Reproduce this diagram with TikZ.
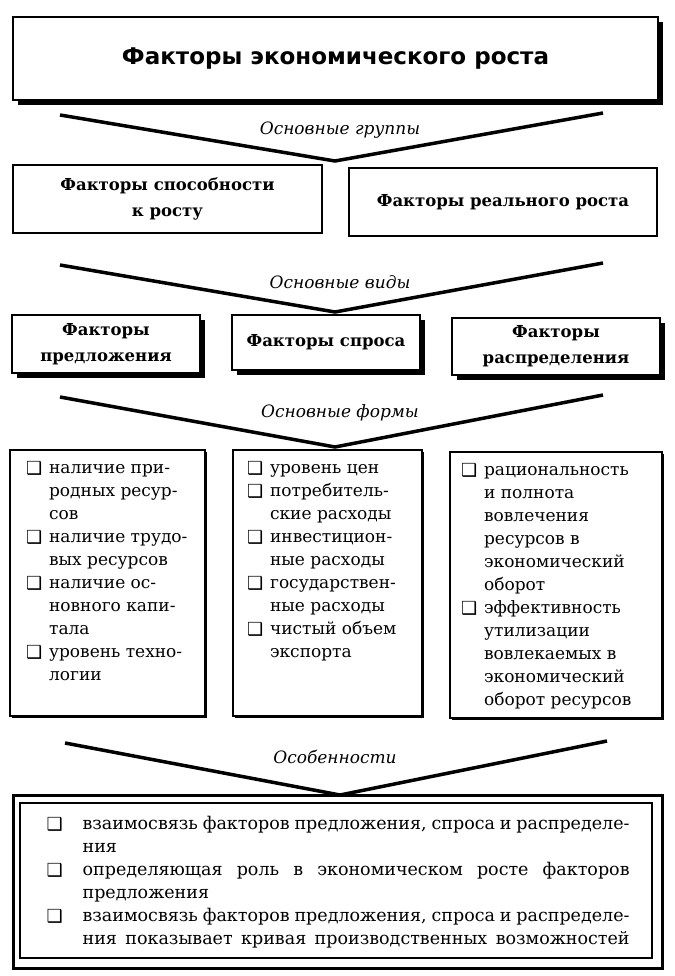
\documentclass[tikz,border=0pt]{standalone}
\usepackage{fontspec}
\setmainfont{DejaVu Serif}
\newfontfamily\hdfont{DejaVu Sans}
\newfontfamily\symfnt{DejaVu Sans}
\usetikzlibrary{shadows}
% case a cocher des listes
\newcommand\chk{\makebox[23pt][l]{\raisebox{-0.5pt}{\symfnt\fontsize{18}{18}\selectfont ❑}}}
\newcommand\ind{\hspace*{23pt}}
\newcommand\jl[1]{\makebox[547pt][s]{#1}}

\begin{document}
\begin{tikzpicture}[x=1pt, y=-1pt,
 box/.style={draw, line width=2.2pt, fill=white, inner sep=0pt},
 shbox/.style={box, drop shadow={fill=black, opacity=1, shadow xshift=5pt, shadow yshift=-5pt}},
 sbox/.style={box, drop shadow={fill=black, opacity=1, shadow xshift=2pt, shadow yshift=-2pt}},
 head/.style={font=\bfseries\fontsize{16.5}{26}\selectfont, align=center},
 grp/.style={font=\itshape\fontsize{17}{20}\selectfont},
 lst/.style={font=\fontsize{17}{23}\selectfont, align=left, inner sep=0pt, anchor=north west},
 vline/.style={line width=3.5pt, line join=miter}]
\useasboundingbox (0,0) rectangle (674,976);
% titre
\node[shbox, minimum width=645pt, minimum height=83pt,
  font=\hdfont\bfseries\fontsize{23}{26}\selectfont] (titre) at (335.5,58.5)
  {Факторы экономического роста};
% groupes
\coordinate (v1l) at (60,115);
\coordinate (v1r) at (603,113);
\coordinate (v1a) at (335,161);
\draw[vline] (v1l) -- (v1a) -- (v1r);
\node[grp] (lgrp) at (340,130) {Основные группы};
\node[box, head, minimum width=309pt, minimum height=68pt] (capa) at (167.5,199)
  {Факторы способности\\к росту};
\node[box, head, minimum width=308pt, minimum height=68pt] (reel) at (503,202)
  {Факторы реального роста};
% types
\coordinate (v2l) at (60,265);
\coordinate (v2r) at (603,263);
\coordinate (v2a) at (335,312);
\draw[vline] (v2l) -- (v2a) -- (v2r);
\node[grp] (ltyp) at (340,282) {Основные виды};
\node[shbox, head, minimum width=188pt, minimum height=58pt] (offre) at (106,344)
  {Факторы\\предложения};
\node[shbox, head, minimum width=188pt, minimum height=55pt] (dem) at (326,342.5)
  {Факторы спроса};
\node[shbox, head, minimum width=208pt, minimum height=57pt] (distr) at (556,346.5)
  {Факторы\\распределения};
% formes
\coordinate (v3l) at (60,397);
\coordinate (v3r) at (603,395);
\coordinate (v3a) at (335,447);
\draw[vline] (v3l) -- (v3a) -- (v3r);
\node[grp] (lfrm) at (340,413) {Основные формы};
\node[sbox, minimum width=195pt, minimum height=266pt] (fo) at (107.5,583) {};
\node[sbox, minimum width=189pt, minimum height=266pt] (fd) at (327.5,583) {};
\node[sbox, minimum width=212pt, minimum height=266pt] (fr) at (556,585) {};
\node[lst] (fotxt) at ([xshift=17pt,yshift=-12pt]fo.north west)
  {\chk наличие при-\\\ind родных ресур-\\\ind сов\\
   \chk наличие трудо-\\\ind вых ресурсов\\
   \chk наличие ос-\\\ind новного капи-\\\ind тала\\
   \chk уровень техно-\\\ind логии};
\node[lst] (fdtxt) at ([xshift=15pt,yshift=-12pt]fd.north west)
  {\chk уровень цен\\
   \chk потребитель-\\\ind ские расходы\\
   \chk инвестицион-\\\ind ные расходы\\
   \chk государствен-\\\ind ные расходы\\
   \chk чистый объем\\\ind экспорта};
\node[lst] (frtxt) at ([xshift=12pt,yshift=-12pt]fr.north west)
  {\chk рациональность\\\ind и полнота\\\ind вовлечения\\\ind ресурсов в\\
   \ind экономический\\\ind оборот\\
   \chk эффективность\\\ind утилизации\\\ind вовлекаемых в\\
   \ind экономический\\\ind оборот ресурсов};
% particularites
\coordinate (v4l) at (65,743);
\coordinate (v4r) at (607,741);
\coordinate (v4a) at (340,795);
\draw[vline] (v4l) -- (v4a) -- (v4r);
\node[grp] (lpart) at (335,757) {Особенности};
\node[sbox, line width=3pt, minimum width=649pt, minimum height=173pt] (part) at (337.5,881.5) {};
\node[draw, line width=1.2pt, minimum width=632pt, minimum height=155pt] (parti) at (336,880.5) {};
\node[lst, font=\fontsize{17.5}{23}\selectfont] (parttxt) at ([xshift=27pt,yshift=-14pt]parti.north west)
  {\makebox[36pt][l]{\chk}\jl{взаимосвязь факторов предложения, спроса и распределе-}\\
   \hspace*{36pt}ния\\
   \makebox[36pt][l]{\chk}\jl{определяющая роль в экономическом росте факторов}\\
   \hspace*{36pt}предложения\\
   \makebox[36pt][l]{\chk}\jl{взаимосвязь факторов предложения, спроса и распределе-}\\
   \hspace*{36pt}\jl{ния показывает кривая производственных возможностей}};
\end{tikzpicture}
\end{document}
